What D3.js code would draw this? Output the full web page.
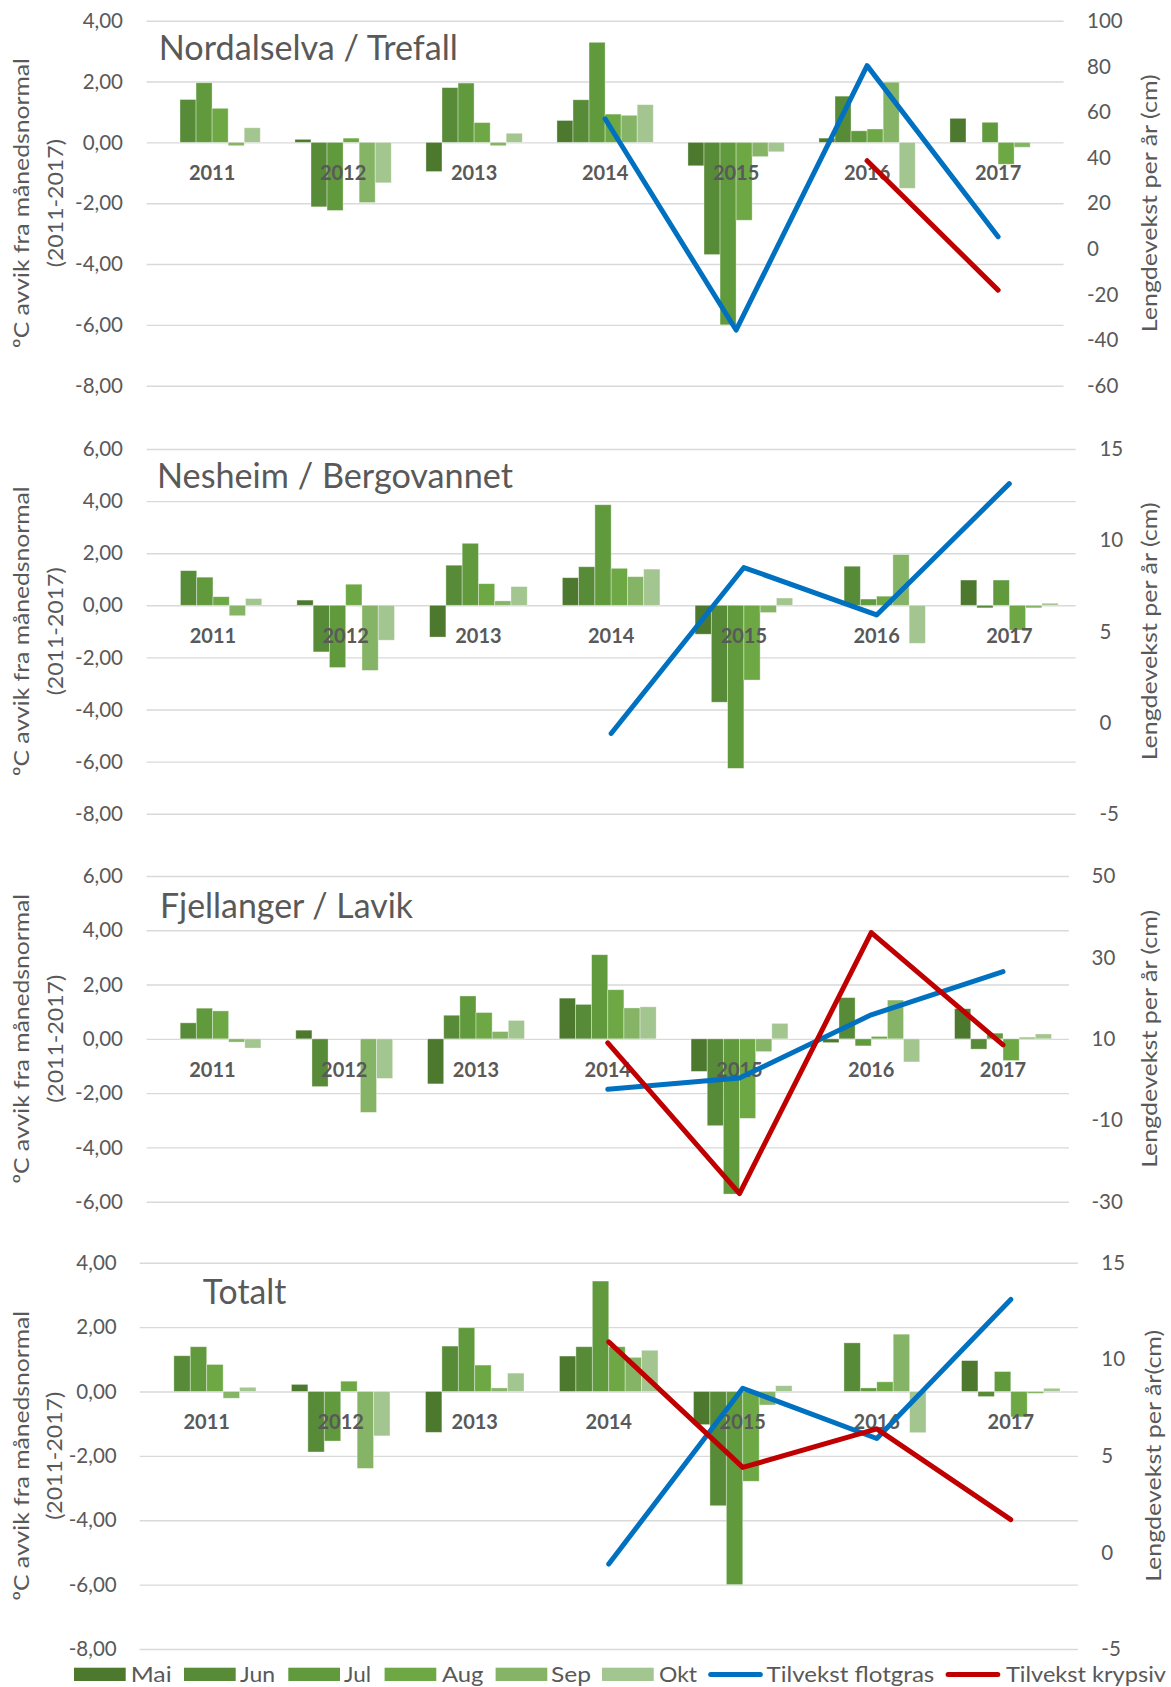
<!DOCTYPE html>
<html>
<head>
<meta charset="utf-8">
<script src="https://cdn.jsdelivr.net/npm/d3@7"></script>
<style>
  html, body { margin: 0; padding: 0; background: #fff; }
  svg { display: block; }
  text { font-family: Lato, "Open Sans", sans-serif; fill: #595959; }
</style>
</head>
<body>
<svg id="chart" width="1171" height="1687"></svg>
<script>
// ---------- DATA ----------
const years = ["2011", "2012", "2013", "2014", "2015", "2016", "2017"];
const months = ["Mai", "Jun", "Jul", "Aug", "Sep", "Okt"];
const lineSeries = ["Tilvekst flotgras", "Tilvekst krypsiv"];

// ºC deviation per year: [Mai, Jun, Jul, Aug, Sep, Okt]
const nordalselvaTemp = [
  [null, 1.41, 1.96, 1.12, -0.11, 0.48],
  [0.10, -2.12, -2.24, 0.14, -1.98, -1.33],
  [-0.96, 1.80, 1.95, 0.65, -0.11, 0.30],
  [0.72, 1.40, 3.29, 0.93, 0.89, 1.24],
  [-0.77, -3.69, -6.00, -2.56, -0.47, -0.31],
  [0.14, 1.52, 0.38, 0.44, 1.98, -1.51],
  [0.79, null, 0.66, -0.72, -0.16, null]
];
const nordalselvaFlotgras = [null, null, null, 57, -35.6, 80.3, 5.3];
const nordalselvaKrypsiv = [null, null, null, null, null, 38.6, -18.1];

const nesheimTemp = [
  [null, 1.33, 1.08, 0.33, -0.40, 0.26],
  [0.20, -1.79, -2.39, 0.81, -2.50, -1.34],
  [-1.22, 1.54, 2.38, 0.83, 0.17, 0.72],
  [1.06, 1.48, 3.86, 1.42, 1.10, 1.39],
  [-1.11, -3.72, -6.26, -2.87, -0.28, 0.28],
  [null, 1.50, 0.24, 0.35, 1.95, -1.46],
  [0.97, -0.10, 0.97, -0.95, -0.10, 0.08]
];
const nesheimFlotgras = [null, null, null, -0.6, 8.5, 5.9, 13.1];
const nesheimKrypsiv = [null, null, null, null, null, null, null];

const fjellangerTemp = [
  [null, 0.59, 1.13, 1.03, -0.12, -0.34],
  [0.32, -1.76, null, null, -2.71, -1.46],
  [-1.66, 0.87, 1.58, 0.97, 0.27, 0.68],
  [1.50, 1.27, 3.10, 1.81, 1.14, 1.18],
  [-1.20, -3.20, -5.72, -2.93, -0.47, 0.57],
  [-0.14, 1.52, -0.26, 0.09, 1.43, -0.85],
  [1.11, -0.38, 0.21, -0.80, 0.06, 0.18]
];
const fjellangerFlotgras = [null, null, null, -2.4, 0.4, 15.9, 26.5];
const fjellangerKrypsiv = [null, null, null, 9.0, -28.0, 36.1, 8.5];

const totaltTemp = [
  [null, 1.11, 1.39, 0.84, -0.21, 0.13],
  [0.22, -1.88, -1.54, 0.32, -2.39, -1.38],
  [-1.27, 1.41, 1.98, 0.82, 0.11, 0.57],
  [1.10, 1.39, 3.43, 1.39, 1.06, 1.28],
  [-1.03, -3.55, -6.00, -2.79, -0.42, 0.18],
  [null, 1.51, 0.11, 0.30, 1.78, -1.28],
  [0.96, -0.16, 0.62, -0.79, -0.06, 0.10]
];
const totaltFlotgras = [null, null, null, -0.6, 8.5, 5.9, 13.1];
const totaltKrypsiv = [null, null, null, 10.9, 4.4, 6.4, 1.7];

// tick values
const leftTicks1 = [4, 2, 0, -2, -4, -6, -8];
const rightTicks1 = [100, 80, 60, 40, 20, 0, -20, -40, -60];
const leftTicks2 = [6, 4, 2, 0, -2, -4, -6, -8];
const rightTicks2 = [15, 10, 5, 0, -5];
const leftTicks3 = [6, 4, 2, 0, -2, -4, -6];
const rightTicks3 = [50, 30, 10, -10, -30];
const leftTicks4 = [4, 2, 0, -2, -4, -6, -8];
const rightTicks4 = [15, 10, 5, 0, -5];

// ---------- STYLE ----------
const monthColors = ["#4c792e", "#588b37", "#609a3d", "#6da845", "#85b466", "#a3c58f"];
const lineColors = ["#0070c0", "#c00000"];
const leftAxisTitle = ["ºC avvik fra månedsnormal", "(2011-2017)"];

const panels = [
  { title: "Nordalselva / Trefall", temp: nordalselvaTemp, flot: nordalselvaFlotgras, kryp: nordalselvaKrypsiv,
    lt: leftTicks1, rt: rightTicks1, L: 146.6, R: 1063.6, T: 20.7, B: 385.7,
    ltx: 123, rtx: 1087, titleX: 158.8, titleY: 60, titleW: 299,
    lax: [21, 55.5], rax: 1149, rTitle: "Lengdevekst per år (cm)", rTitleW: 258 },
  { title: "Nesheim / Bergovannet", temp: nesheimTemp, flot: nesheimFlotgras, kryp: nesheimKrypsiv,
    lt: leftTicks2, rt: rightTicks2, L: 146.6, R: 1075.7, T: 449, B: 813.7,
    ltx: 123, rtx: 1099.4, titleX: 157, titleY: 488.3, titleW: 356,
    lax: [21, 55.5], rax: 1149, rTitle: "Lengdevekst per år (cm)", rTitleW: 258 },
  { title: "Fjellanger / Lavik", temp: fjellangerTemp, flot: fjellangerFlotgras, kryp: fjellangerKrypsiv,
    lt: leftTicks3, rt: rightTicks3, L: 146.6, R: 1068.9, T: 876, B: 1201.7,
    ltx: 123, rtx: 1091.5, titleX: 160, titleY: 917.7, titleW: 253,
    lax: [21, 55.5], rax: 1149, rTitle: "Lengdevekst per år (cm)", rTitleW: 258 },
  { title: "Totalt", temp: totaltTemp, flot: totaltFlotgras, kryp: totaltKrypsiv,
    lt: leftTicks4, rt: rightTicks4, L: 139.7, R: 1077.8, T: 1262.7, B: 1649,
    ltx: 116.7, rtx: 1101.3, titleX: 202.8, titleY: 1304, titleW: 83.5,
    lax: [21, 53.6], rax: 1153, rTitle: "Lengdevekst per år(cm)", rTitleW: 252 }
];

const svg = d3.select("#chart");
const fmtLeft = v => v.toFixed(2).replace(".", ",");
const gapRatio = 2.16 / 8.16;

panels.forEach(p => {
  const g = svg.append("g");
  const yL = d3.scaleLinear().domain([d3.min(p.lt), d3.max(p.lt)]).range([p.B, p.T]);
  const yR = d3.scaleLinear().domain([d3.min(p.rt), d3.max(p.rt)]).range([p.B, p.T]);
  const x0 = d3.scaleBand().domain(years).range([p.L, p.R]).paddingInner(gapRatio).paddingOuter(gapRatio / 2);
  const x1 = d3.scaleBand().domain(months).range([0, x0.bandwidth()]);

  // gridlines
  const leftAxis = d3.axisLeft(yL).tickValues(p.lt).tickSize(-(p.R - p.L)).tickFormat("");
  const ga = g.append("g").attr("transform", `translate(${p.L},0)`).call(leftAxis);
  ga.select(".domain").remove();
  ga.selectAll(".tick line").attr("stroke", "#d9d9d9").attr("stroke-width", 1.4);

  // left tick labels
  g.append("g").selectAll("text").data(p.lt).join("text")
    .attr("x", p.ltx).attr("y", d => yL(d)).attr("dy", "0.35em")
    .attr("text-anchor", "end").attr("font-size", 20.5).text(fmtLeft);

  // right tick labels
  g.append("g").selectAll("text").data(p.rt).join("text")
    .attr("x", p.rtx).attr("y", d => yR(d)).attr("dy", "0.35em")
    .attr("text-anchor", "start").attr("font-size", 20.5).text(d => String(d));

  // bars
  const bars = [];
  p.temp.forEach((row, yi) => row.forEach((v, mi) => {
    if (v !== null) bars.push({ year: years[yi], month: months[mi], mi, v });
  }));
  g.append("g").selectAll("rect").data(bars).join("rect")
    .attr("x", d => x0(d.year) + x1(d.month))
    .attr("width", x1.bandwidth())
    .attr("y", d => Math.min(yL(0), yL(d.v)))
    .attr("height", d => Math.abs(yL(d.v) - yL(0)))
    .attr("fill", d => monthColors[d.mi])
    .attr("stroke", "rgba(255,255,255,0.45)").attr("stroke-width", 0.8);

  // year labels at zero line
  g.append("g").selectAll("text").data(years).join("text")
    .attr("x", d => x0(d) + x0.bandwidth() / 2).attr("y", yL(0) + 38)
    .attr("text-anchor", "middle").attr("font-size", 20).attr("font-weight", 700)
    .attr("fill", "#595959").text(d => d);

  // lines
  const cx = i => x0(years[i]) + x0.bandwidth() / 2;
  const line = d3.line().defined(d => d !== null).x((d, i) => cx(i)).y(d => yR(d));
  [p.flot, p.kryp].forEach((s, si) => {
    if (s.every(v => v === null)) return;
    g.append("path").attr("d", line(s)).attr("fill", "none")
      .attr("stroke", lineColors[si]).attr("stroke-width", 5)
      .attr("stroke-linecap", "round").attr("stroke-linejoin", "round");
  });

  // title
  g.append("text").attr("x", p.titleX).attr("y", p.titleY)
    .attr("font-size", 34).attr("textLength", p.titleW).attr("lengthAdjust", "spacingAndGlyphs")
    .text(p.title);

  // left axis title
  const cy = (p.T + p.B) / 2;
  const lw = [290, 128];
  leftAxisTitle.forEach((t, i) => {
    g.append("text").attr("transform", `translate(${p.lax[i]},${cy}) rotate(-90)`)
      .attr("text-anchor", "middle").attr("dy", "0.36em").attr("font-size", 22)
      .attr("textLength", lw[i]).attr("lengthAdjust", "spacingAndGlyphs").text(t);
  });
  // right axis title
  g.append("text").attr("transform", `translate(${p.rax},${cy}) rotate(-90)`)
    .attr("text-anchor", "middle").attr("dy", "0.36em").attr("font-size", 22)
    .attr("textLength", p.rTitleW).attr("lengthAdjust", "spacingAndGlyphs").text(p.rTitle);
});

// ---------- LEGEND ----------
const legend = svg.append("g");
const legendSwatchX = [74, 184, 288.3, 384.6, 495.6, 602];
const legendTextX = [130.7, 240, 344, 442, 551, 659];
const legendTextW = [41, 35, 27, 41.5, 40, 38];
months.forEach((m, i) => {
  legend.append("rect").attr("x", legendSwatchX[i]).attr("y", 1667.7)
    .attr("width", 51.7).attr("height", 13.3).attr("fill", monthColors[i]);
  legend.append("text").attr("x", legendTextX[i]).attr("y", 1681.7)
    .attr("font-size", 20.5).attr("textLength", legendTextW[i]).attr("lengthAdjust", "spacingAndGlyphs")
    .text(m);
});
const lineLegX = [[710.7, 760.3], [948.1, 997.8]];
const lineTextX = [766.6, 1006];
const lineTextW = [167.7, 160];
lineSeries.forEach((s, i) => {
  legend.append("line").attr("x1", lineLegX[i][0]).attr("x2", lineLegX[i][1])
    .attr("y1", 1674.5).attr("y2", 1674.5).attr("stroke", lineColors[i])
    .attr("stroke-width", 5).attr("stroke-linecap", "round");
  legend.append("text").attr("x", lineTextX[i]).attr("y", 1681.7)
    .attr("font-size", 20.5).attr("textLength", lineTextW[i]).attr("lengthAdjust", "spacingAndGlyphs")
    .text(s);
});
</script>
</body>
</html>
